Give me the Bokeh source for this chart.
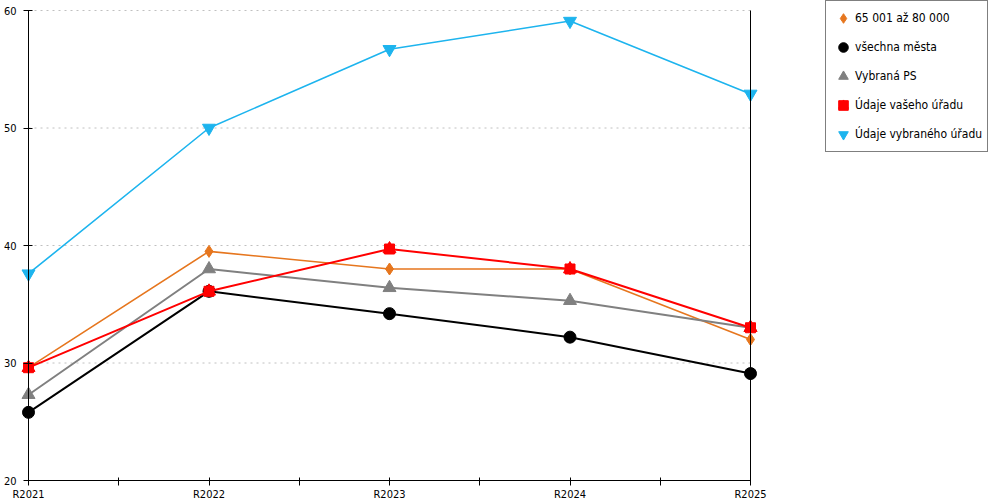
from bokeh.plotting import figure
from bokeh.models import Range1d, FixedTicker, Legend, LegendItem, LinearAxis
from bokeh.embed import file_html
from bokeh.resources import INLINE

years = ["R2021", "R2022", "R2023", "R2024", "R2025"]
s_range = [29.6, 39.5, 38.0, 38.0, 32.0]      # 65 001 až 80 000
s_all = [25.8, 36.1, 34.2, 32.2, 29.1]        # všechna města
s_ps = [27.3, 38.0, 36.4, 35.3, 33.0]         # Vybraná PS
s_yours = [29.6, 36.1, 39.7, 38.0, 33.0]      # Údaje vašeho úřadu
s_selected = [37.6, 50.0, 56.7, 59.1, 52.9]   # Údaje vybraného úřadu
y_ticks = [20, 30, 40, 50, 60]
labels = ["65 001 až 80 000", "všechna města", "Vybraná PS",
          "Údaje vašeho úřadu", "Údaje vybraného úřadu"]

FONT = "DejaVu Sans Condensed"
xs = list(range(len(years)))

# layout (pixels)
FW, FH = 1000, 500         # frame size
X0_PX, X1_PX = 28, 750     # where first/last category sit
Y_TOP_PX, Y_BOT_PX = 10, 480
ppx = (X1_PX - X0_PX) / (xs[-1] - xs[0])
ppy = (Y_BOT_PX - Y_TOP_PX) / (y_ticks[-1] - y_ticks[0])

p = figure(frame_width=FW, frame_height=FH, output_backend="svg", toolbar_location=None,
           x_range=Range1d(xs[0] - X0_PX / ppx, xs[0] + (FW - X0_PX) / ppx),
           y_range=Range1d(y_ticks[0] - (FH - Y_BOT_PX) / ppy, y_ticks[-1] + Y_TOP_PX / ppy),
           min_border_left=0, min_border_right=0, min_border_top=0, min_border_bottom=0)
p.outline_line_color = None
p.background_fill_color = "white"
p.xgrid.visible = False
p.ygrid.visible = False

gy = y_ticks[1:]
p.segment(x0=[xs[0]] * len(gy), x1=[xs[-1]] * len(gy), y0=gy, y1=gy,
          line_color="#c0c0c0", line_width=1, line_dash="2 4")

xa = p.xaxis[0]
xa.fixed_location = y_ticks[0]
xa.bounds = (xs[0], xs[-1])
xa.ticker = FixedTicker(ticks=xs, minor_ticks=[x + 0.5 for x in xs[:-1]])
xa.major_label_overrides = {x: y for x, y in zip(xs, years)}
xa.major_tick_in = 3
xa.major_tick_out = 5
xa.minor_tick_in = 3
xa.minor_tick_out = 5
xa.minor_tick_line_color = "black"
xa.major_label_standoff = 2
xa.major_label_text_font = FONT
xa.major_label_text_font_size = "11px"
xa.major_label_text_color = "black"
xa.axis_line_color = "black"

ya = p.yaxis[0]
ya.fixed_location = xs[0]
ya.bounds = (y_ticks[0], y_ticks[-1])
ya.ticker = FixedTicker(ticks=y_ticks)
ya.major_tick_in = 4
ya.major_tick_out = 5
ya.minor_tick_line_color = None
ya.major_label_standoff = 7
ya.major_label_text_font = FONT
ya.major_label_text_font_size = "11px"
ya.major_label_text_color = "black"
ya.axis_line_color = "black"

ra = LinearAxis(fixed_location=xs[-1], bounds=(y_ticks[0], y_ticks[-1]),
                major_tick_line_color=None, minor_tick_line_color=None,
                major_label_text_color=None, major_label_text_font_size="1px",
                axis_line_color="black")
p.add_layout(ra, "right")

c_orange = "#E6761E"
c_black = "#000000"
c_gray = "#808080"
c_red = "#FF0000"
c_blue = "#1DB4EE"

p.line(xs, s_range, line_color=c_orange, line_width=1.6)
r1 = p.scatter(xs, s_range, marker="diamond", size=12, fill_color=c_orange, line_color=c_orange)
p.line(xs, s_all, line_color=c_black, line_width=2)
r2 = p.scatter(xs, s_all, marker="circle", size=12, fill_color=c_black, line_color=c_black)
p.line(xs, s_ps, line_color=c_gray, line_width=2)
r3 = p.scatter(xs, s_ps, marker="triangle", size=13, fill_color=c_gray, line_color=c_gray)
p.line(xs, s_yours, line_color=c_red, line_width=2)
r4a = p.scatter(xs, s_yours, marker="square", size=10, fill_color=c_red, line_color=c_red)
r4b = p.scatter(xs, s_yours, marker="triangle", size=13, fill_color=c_red, line_color=c_red)
p.line(xs, s_selected, line_color=c_blue, line_width=1.6)
r5 = p.scatter(xs, s_selected, marker="inverted_triangle", size=13, fill_color=c_blue, line_color=c_blue)

LEG_TOP, LEG_H = 2, 150
legend = Legend(items=[
    LegendItem(label=labels[0], renderers=[r1]),
    LegendItem(label=labels[1], renderers=[r2]),
    LegendItem(label=labels[2], renderers=[r3]),
    LegendItem(label=labels[3], renderers=[r4a, r4b]),
    LegendItem(label=labels[4], renderers=[r5]),
], location=(825, FH - LEG_TOP - LEG_H))
legend.border_line_color = "black"
legend.border_line_width = 1
legend.background_fill_color = "white"
legend.background_fill_alpha = 1
legend.padding = 5
legend.spacing = 5
legend.margin = 0
legend.glyph_width = 24
legend.glyph_height = 24
legend.label_height = 24
legend.label_standoff = 0
legend.label_text_font = FONT
legend.label_text_font_size = "12px"
legend.label_text_color = "black"
p.add_layout(legend, "center")

open("out.html", "w").write(file_html(p, INLINE))
